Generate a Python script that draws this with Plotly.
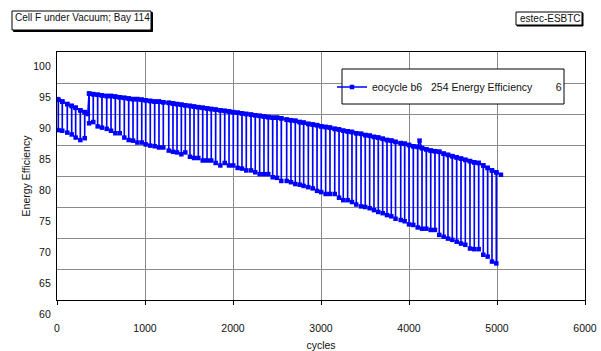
import plotly.graph_objects as go

# ---- data ----
dip_cycle = [15, 60, 117, 167, 212, 265, 315,
             365, 412, 462, 511, 565, 614, 663, 713, 765, 815, 864, 913, 963, 1008, 1060, 1110, 1159, 1208, 1270,
             1318, 1364, 1413, 1458, 1511, 1557, 1606, 1656, 1705, 1753, 1803, 1856, 1906, 1955, 2003, 2053, 2102,
             2151, 2205, 2253, 2303, 2352, 2401, 2451, 2500, 2549,
             2610, 2659, 2708, 2758, 2803, 2856, 2906, 2955, 3003, 3053, 3102, 3156, 3205, 3253, 3303, 3352, 3401,
             3455, 3503, 3553, 3602, 3651, 3701, 3750, 3799, 3847,
             3906, 3951, 4000, 4049, 4099, 4148, 4197, 4247, 4295, 4344, 4394, 4443, 4492, 4542, 4591, 4640, 4693,
             4742, 4792, 4844, 4894, 4943, 4992]
dip_value = [87.4, 87.3, 87.0, 86.7, 86.2, 85.8, 86.1,
             88.5, 88.7, 88.0, 87.8, 87.6, 87.3, 86.9, 86.9, 86.2, 85.8, 85.7, 85.4, 85.4, 85.1, 84.9, 84.8, 84.6, 84.6, 84.1,
             83.9, 83.8, 83.5, 83.8, 83.1, 82.9, 82.9, 82.5, 82.5, 82.5, 82.1, 81.7, 82.1, 81.7, 81.7, 81.3, 81.2,
             80.9, 80.9, 80.6, 80.3, 80.3, 80.3, 79.8, 79.7, 79.2,
             79.2, 79.0, 78.7, 78.6, 78.4, 78.2, 78.0, 77.6, 77.4, 77.1, 77.1, 77.1, 76.5, 76.1, 76.1, 75.8, 75.4,
             75.1, 75.0, 74.8, 74.5, 74.2, 74.0, 73.7, 73.5, 73.1,
             72.9, 72.7, 72.2, 72.1, 71.7, 71.5, 71.5, 71.3, 71.3, 70.5, 70.2, 69.9, 69.7, 69.4, 69.1, 68.9, 68.3,
             68.2, 68.2, 67.3, 67.0, 66.2, 65.9]
top_value = [92.3, 92.0, 91.6, 91.3, 91.0, 90.6, 90.3,
             93.3, 93.2, 93.1, 93.0, 92.9, 92.9, 92.8, 92.7, 92.6, 92.5, 92.4, 92.4, 92.3, 92.2, 92.1, 92.0, 92.0, 91.9, 91.8,
             91.7, 91.6, 91.5, 91.4, 91.3, 91.2, 91.1, 91.0, 90.9, 90.8, 90.7, 90.6, 90.5, 90.4, 90.3, 90.2, 90.1,
             90.0, 89.9, 89.8, 89.7, 89.6, 89.5, 89.4, 89.4, 89.3,
             89.1, 89.0, 88.9, 88.7, 88.6, 88.4, 88.3, 88.2, 88.0, 87.9, 87.8, 87.6, 87.5, 87.3, 87.2, 87.1, 86.9,
             86.8, 86.6, 86.5, 86.3, 86.2, 86.0, 85.8, 85.7, 85.5,
             85.3, 85.2, 85.0, 84.8, 84.7, 84.5, 84.3, 84.1, 84.0, 83.9, 83.6, 83.4, 83.2, 83.0, 82.8, 82.6, 82.4,
             82.2, 82.1, 81.7, 81.3, 80.9, 80.6]
extra_cycle = [0, 350, 4120, 5045]
extra_value = [92.4, 90.0, 85.7, 80.2]

x_ticks = [0, 1000, 2000, 3000, 4000, 5000, 6000]
y_ticks = [60, 65, 70, 75, 80, 85, 90, 95, 100]

series_name = "eocycle b6\u00a0\u00a0\u00a0254 Energy Efficiency" + "\u00a0" * 8 + "6"

# build the cycle series (each dip: top -> dip -> top)
pts = []
for c, d, t in zip(dip_cycle, dip_value, top_value):
    pts += [(c - 1, t), (c, d), (c + 1, t)]
pts += list(zip(extra_cycle, extra_value))
pts.sort(key=lambda p: p[0])
xs = [p[0] for p in pts]
ys = [p[1] for p in pts]

W, H = 601, 351
L, R, T, B = 57, 16, 52, 51
PW, PH = W - L - R, H - T - B


def px(x):
    return (x - L) / PW


def py(y):
    return (H - B - y) / PH


BLUE = "#0000FF"
fig = go.Figure()
fig.add_trace(go.Scatter(
    x=xs, y=ys, mode="lines+markers", name=series_name,
    line=dict(color=BLUE, width=1.6),
    marker=dict(symbol="square", size=4.5, color=BLUE),
))

font = "Arial, Liberation Sans, sans-serif"
fig.update_layout(
    width=W, height=H,
    margin=dict(l=L, r=R, t=T, b=B, autoexpand=False),
    paper_bgcolor="white", plot_bgcolor="white",
    font=dict(family=font, size=10.5, color="#111"),
    showlegend=True,
    legend=dict(x=px(332), y=py(87), xanchor="left", yanchor="middle",
                bgcolor="rgba(0,0,0,0)", borderwidth=0, font=dict(size=10.5, color="#111")),
    xaxis=dict(range=[0, 6000], tickvals=x_ticks, showgrid=True, gridcolor="#8a8a8a", gridwidth=1,
               showline=True, linecolor="black", linewidth=1.3, mirror=True,
               ticks="outside", ticklen=4, tickcolor="black", ticklabelstandoff=14,
               zeroline=False,
               title=dict(text="cycles", font=dict(size=10.5), standoff=8)),
    yaxis=dict(range=[60, 100], tickvals=y_ticks, showgrid=True, gridcolor="#8a8a8a", gridwidth=1,
               showline=True, linecolor="black", linewidth=1.3, mirror=True,
               ticks="", ticklabelshift=14, ticklabelstandoff=3, zeroline=False,
               title=dict(text="Energy Efficiency", font=dict(size=10.5), standoff=0)),
    shapes=[
        # legend box
        dict(type="rect", xref="paper", yref="paper", x0=px(342), x1=px(564), y0=py(104), y1=py(69),
             fillcolor="white", line=dict(color="black", width=1), layer="above"),
        # title box with shadow
        dict(type="rect", xref="paper", yref="paper", x0=px(13.5), x1=px(152.5), y0=py(31.5), y1=py(12.5),
             fillcolor="black", line=dict(color="black", width=1), layer="above"),
        dict(type="rect", xref="paper", yref="paper", x0=px(12), x1=px(151), y0=py(30), y1=py(11),
             fillcolor="white", line=dict(color="black", width=1), layer="above"),
        # estec box
        dict(type="rect", xref="paper", yref="paper", x0=px(517), x1=px(583), y0=py(26), y1=py(13),
             fillcolor="black", line=dict(color="black", width=1), layer="above"),
        dict(type="rect", xref="paper", yref="paper", x0=px(516), x1=px(582), y0=py(25), y1=py(12),
             fillcolor="white", line=dict(color="black", width=1), layer="above"),
    ],
    annotations=[
        dict(text="Cell F under Vacuum; Bay 114", xref="paper", yref="paper", x=px(13), y=py(17),
             xanchor="left", yanchor="middle", showarrow=False, font=dict(size=10, color="#111")),
        dict(text="estec-ESBTC", xref="paper", yref="paper", x=px(518), y=py(18.5),
             xanchor="left", yanchor="middle", showarrow=False, font=dict(size=10, color="#111")),
    ],
)

fig.write_html("out.html")
